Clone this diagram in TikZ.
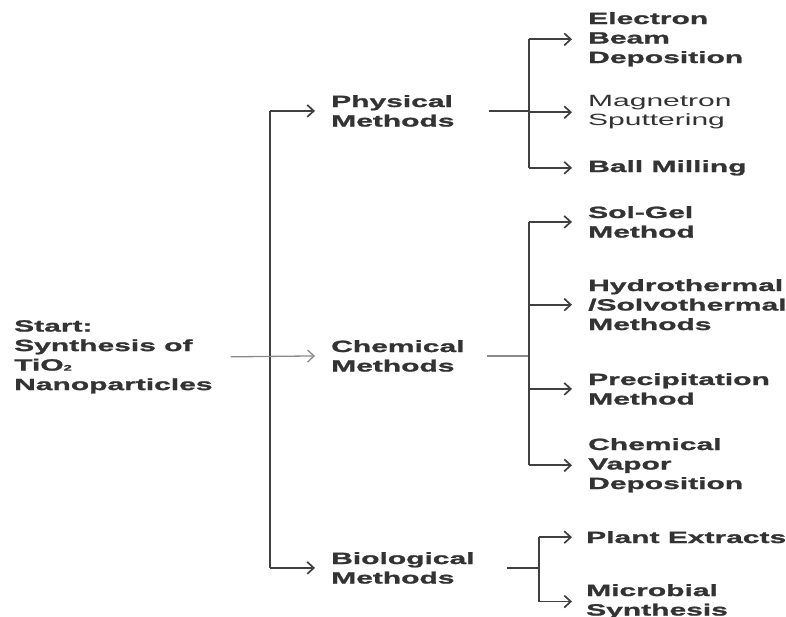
\documentclass[tikz,border=0pt]{standalone}
\usepackage{fontspec}
\setmainfont{Liberation Sans}[FakeStretch=1.84, BoldFeatures={FakeBold=1.3}]
\usetikzlibrary{arrows.meta}
\definecolor{txtgray}{HTML}{333333}
\definecolor{lngray}{HTML}{404040}
\definecolor{ltgray}{HTML}{8A8A8A}
\begin{document}
\begin{tikzpicture}[x=1pt,y=-1pt,
  lbl/.style={anchor=north west, align=left, inner sep=0pt, text=txtgray,
    font=\fontsize{16.3}{19.5}\selectfont\bfseries},
  lblreg/.style={lbl, font=\fontsize{16.3}{19.5}\selectfont},
  trunkline/.style={draw=lngray, line width=2.4pt},
  branch/.style={draw=lngray, line width=2pt},
  arr/.style={draw=lngray, line width=1.7pt, -{Straight Barb[length=6.5pt,width=12pt]}},
  lightarr/.style={draw=ltgray, line width=1.3pt, -{Straight Barb[length=6.5pt,width=12pt]}},
  lightline/.style={draw=ltgray, line width=1.3pt}]
\useasboundingbox (0,0) rectangle (786,617);
\fill[white] (0,0) rectangle (786,617);

% nodes
\node[lbl] (start) at (14,320) {Start:\\Synthesis of\\TiO{\fontsize{8}{8}\selectfont 2}\\Nanoparticles};
\node[lbl] (phys) at (331,95) {Physical\\Methods};
\node[lbl] (chem) at (331,340) {Chemical\\Methods};
\node[lbl] (bio) at (331,552) {Biological\\Methods};

\node[lbl] (ebd) at (588,12) {Electron\\Beam\\Deposition};
\node[lblreg] (mag) at (588,95) {Magnetron\\Sputtering};
\node[lbl] (ball) at (588,160) {Ball Milling};

\node[lbl] (solgel) at (588,206) {Sol-Gel\\Method};
\node[lbl] (hydro) at (588,279) {Hydrothermal\\/Solvothermal\\Methods};
\node[lbl] (precip) at (588,373) {Precipitation\\Method};
\node[lbl] (cvd) at (588,438) {Chemical\\Vapor\\Deposition};

\node[lbl] (plant) at (586,531) {Plant Extracts};
\node[lbl] (micro) at (586,584) {Microbial\\Synthesis};

% junction columns
\coordinate (tk) at (270,0);
\coordinate (pb) at (529,0);
\coordinate (cb) at (529,0);
\coordinate (bb) at (539,0);

% main trunk
\draw[trunkline] (tk |- phys.west) -- (tk |- bio.west);
\draw[lightarr] ([xshift=18pt]start.east) -- ([xshift=-16pt]chem.west);
\draw[arr] (tk |- phys.west) -- ([xshift=-16pt]phys.west);
\draw[arr] (tk |- bio.west) -- ([xshift=-16pt]bio.west);

% physical branch
\draw[branch] ([xshift=34pt]phys.east) -- (pb |- phys.east);
\draw[branch] (pb |- ebd.west) -- (pb |- ball.west);
\draw[arr] (pb |- ebd.west) -- ([xshift=-16pt]ebd.west);
\draw[arr] (pb |- mag.west) -- ([xshift=-16pt]mag.west);
\draw[arr] (pb |- ball.west) -- ([xshift=-16pt]ball.west);

% chemical branch
\draw[lightline] ([xshift=22pt]chem.east) -- (cb |- chem.east);
\draw[branch] (cb |- solgel.west) -- (cb |- cvd.west);
\draw[arr] (cb |- solgel.west) -- ([xshift=-16pt]solgel.west);
\draw[arr] (cb |- hydro.west) -- ([xshift=-16pt]hydro.west);
\draw[arr] (cb |- precip.west) -- ([xshift=-16pt]precip.west);
\draw[arr] (cb |- cvd.west) -- ([xshift=-16pt]cvd.west);

% biological branch
\draw[branch] ([xshift=32pt]bio.east) -- (bb |- bio.east);
\draw[branch] (bb |- plant.west) -- (bb |- micro.west);
\draw[arr] (bb |- plant.west) -- ([xshift=-14pt]plant.west);
\draw[arr] (bb |- micro.west) -- ([xshift=-14pt]micro.west);
\end{tikzpicture}
\end{document}
